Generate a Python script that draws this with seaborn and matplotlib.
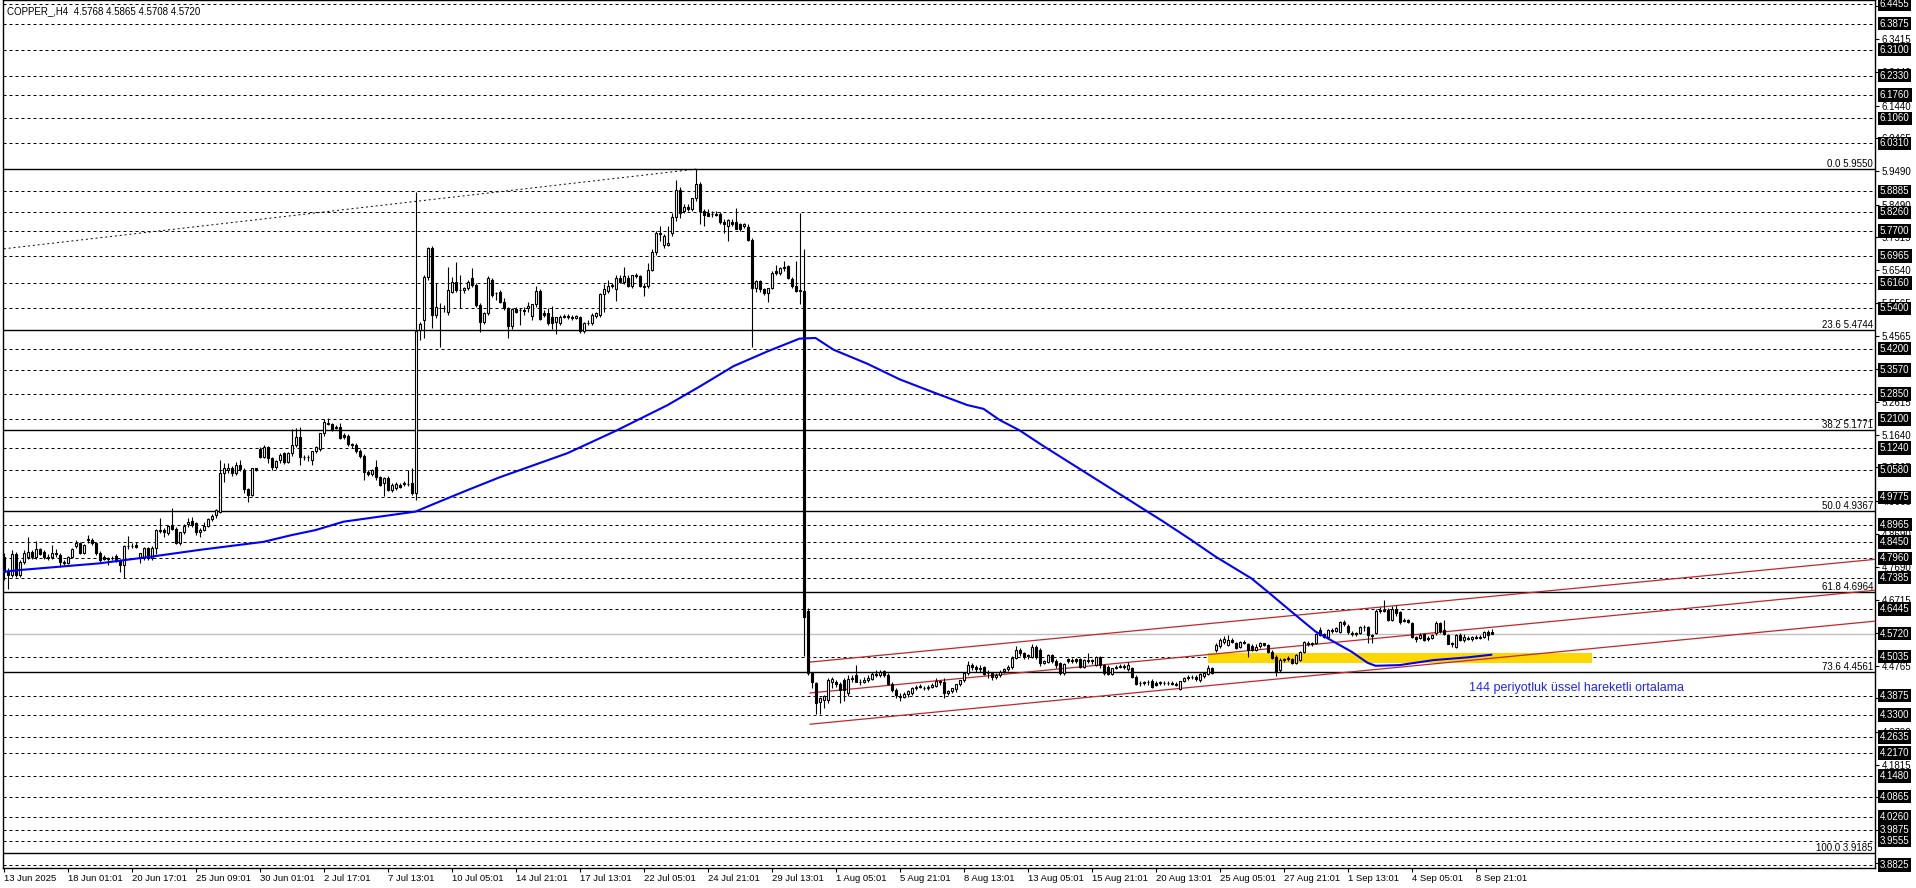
import matplotlib
matplotlib.use("Agg")
import matplotlib.pyplot as plt
import matplotlib.transforms as mtransforms
import seaborn as sns
import numpy as np

# H4 candles, one per bar index (bar 0 = 13 Jun 2025)
opens = [
    4.801, 4.756, 4.746, 4.810, 4.746, 4.786, 4.800, 4.815, 4.800, 4.823,
    4.816, 4.801, 4.801, 4.811, 4.806, 4.786, 4.781, 4.801, 4.834, 4.841,
    4.811, 4.850, 4.851, 4.841, 4.813, 4.801, 4.796, 4.797, 4.803, 4.789,
    4.776, 4.833, 4.833, 4.836, 4.796, 4.796, 4.826, 4.796, 4.826, 4.880,
    4.880, 4.870, 4.896, 4.883, 4.843, 4.873, 4.899, 4.908, 4.900, 4.873,
    4.881, 4.893, 4.913, 4.925, 4.935, 5.049, 5.059, 5.066, 5.049, 5.074,
    5.059, 5.002, 4.985, 5.064, 5.122, 5.099, 5.126, 5.094, 5.067, 5.089,
    5.109, 5.084, 5.109, 5.133, 5.158, 5.099, 5.097, 5.089, 5.114, 5.121,
    5.168, 5.200, 5.196, 5.188, 5.188, 5.163, 5.160, 5.136, 5.133, 5.115,
    5.101, 5.054, 5.047, 5.069, 5.037, 5.019, 5.034, 4.999, 5.004, 5.014,
    5.019, 5.017, 5.019, 4.991, 5.476, 5.505, 5.634, 5.719, 5.520, 5.540,
    5.540, 5.530, 5.590, 5.620, 5.595, 5.596, 5.600, 5.630, 5.610, 5.550,
    5.500, 5.525, 5.625, 5.585, 5.590, 5.560, 5.540, 5.487, 5.538, 5.535,
    5.535, 5.541, 5.516, 5.552, 5.593, 5.525, 5.525, 5.514, 5.500, 5.497,
    5.514, 5.516, 5.514, 5.512, 5.514, 5.473, 5.497, 5.497, 5.516, 5.519,
    5.583, 5.593, 5.608, 5.597, 5.630, 5.619, 5.630, 5.608, 5.638, 5.635,
    5.608, 5.608, 5.655, 5.707, 5.763, 5.730, 5.730, 5.763, 5.812, 5.892,
    5.830, 5.843, 5.835, 5.870, 5.909, 5.829, 5.823, 5.820, 5.822, 5.822,
    5.796, 5.785, 5.796, 5.798, 5.790, 5.785, 5.781, 5.743, 5.600, 5.622,
    5.597, 5.585, 5.602, 5.652, 5.646, 5.660, 5.666, 5.627, 5.608, 5.593,
    5.593, 4.639, 4.455, 4.424, 4.369, 4.374, 4.374, 4.427, 4.427, 4.422,
    4.433, 4.394, 4.438, 4.449, 4.427, 4.429, 4.433, 4.438, 4.451, 4.449,
    4.460, 4.449, 4.421, 4.405, 4.387, 4.384, 4.392, 4.394, 4.411, 4.414,
    4.411, 4.409, 4.414, 4.416, 4.430, 4.427, 4.394, 4.402, 4.406, 4.421,
    4.433, 4.455, 4.477, 4.471, 4.465, 4.471, 4.454, 4.456, 4.444, 4.450,
    4.461, 4.467, 4.471, 4.498, 4.523, 4.513, 4.505, 4.503, 4.533, 4.523,
    4.485, 4.488, 4.508, 4.491, 4.483, 4.454, 4.495, 4.491, 4.495, 4.495,
    4.473, 4.490, 4.489, 4.478, 4.501, 4.478, 4.473, 4.452, 4.470, 4.473,
    4.475, 4.465, 4.468, 4.444, 4.425, 4.426, 4.427, 4.432, 4.424, 4.425,
    4.425, 4.426, 4.424, 4.422, 4.408, 4.430, 4.441, 4.443, 4.442, 4.434,
    4.445, 4.453, 4.468, 4.523, 4.535, 4.547, 4.538, 4.553, 4.543, 4.533,
    4.548, 4.541, 4.535, 4.523, 4.535, 4.543, 4.538, 4.518, 4.503, 4.463,
    4.493, 4.497, 4.495, 4.485, 4.493, 4.518, 4.545, 4.540, 4.543, 4.583,
    4.570, 4.563, 4.583, 4.581, 4.578, 4.607, 4.594, 4.575, 4.572, 4.573,
    4.591, 4.590, 4.568, 4.573, 4.640, 4.640, 4.643, 4.612, 4.645, 4.636,
    4.610, 4.612, 4.602, 4.563, 4.560, 4.570, 4.557, 4.558, 4.573, 4.602,
    4.583, 4.568, 4.541, 4.533, 4.568, 4.553, 4.558, 4.556, 4.561, 4.558,
    4.563, 4.576, 4.5768,
]
highs = [
    4.811, 4.766, 4.821, 4.815, 4.790, 4.820, 4.860, 4.822, 4.848, 4.828,
    4.822, 4.810, 4.836, 4.825, 4.812, 4.792, 4.803, 4.826, 4.851, 4.845,
    4.840, 4.866, 4.856, 4.845, 4.818, 4.805, 4.800, 4.802, 4.808, 4.795,
    4.835, 4.862, 4.843, 4.846, 4.810, 4.830, 4.830, 4.832, 4.883, 4.915,
    4.885, 4.895, 4.945, 4.888, 4.875, 4.897, 4.915, 4.920, 4.905, 4.885,
    4.905, 4.915, 4.928, 4.942, 5.089, 5.079, 5.079, 5.070, 5.084, 5.089,
    5.064, 5.006, 5.064, 5.066, 5.128, 5.133, 5.130, 5.098, 5.090, 5.110,
    5.113, 5.112, 5.180, 5.183, 5.188, 5.105, 5.104, 5.110, 5.130, 5.170,
    5.210, 5.213, 5.200, 5.192, 5.200, 5.168, 5.165, 5.140, 5.138, 5.120,
    5.106, 5.058, 5.062, 5.089, 5.041, 5.038, 5.040, 5.020, 5.022, 5.020,
    5.025, 5.059, 5.064, 5.887, 5.500, 5.640, 5.724, 5.726, 5.615, 5.555,
    5.550, 5.664, 5.634, 5.679, 5.639, 5.605, 5.625, 5.659, 5.615, 5.555,
    5.530, 5.635, 5.630, 5.590, 5.595, 5.570, 5.545, 5.540, 5.545, 5.540,
    5.545, 5.560, 5.552, 5.607, 5.598, 5.535, 5.541, 5.547, 5.515, 5.520,
    5.522, 5.522, 5.520, 5.520, 5.518, 5.500, 5.505, 5.525, 5.530, 5.585,
    5.613, 5.625, 5.615, 5.640, 5.640, 5.663, 5.640, 5.640, 5.645, 5.640,
    5.615, 5.674, 5.718, 5.770, 5.785, 5.760, 5.785, 5.825, 5.923, 5.900,
    5.850, 5.850, 5.870, 5.954, 5.915, 5.835, 5.835, 5.830, 5.830, 5.828,
    5.805, 5.805, 5.805, 5.840, 5.795, 5.795, 5.790, 5.750, 5.625, 5.625,
    5.600, 5.600, 5.650, 5.668, 5.662, 5.682, 5.670, 5.632, 5.680, 5.823,
    5.718, 4.649, 4.459, 4.429, 4.384, 4.389, 4.439, 4.444, 4.434, 4.427,
    4.439, 4.449, 4.449, 4.477, 4.437, 4.444, 4.449, 4.459, 4.464, 4.464,
    4.464, 4.454, 4.427, 4.409, 4.394, 4.399, 4.404, 4.414, 4.419, 4.421,
    4.417, 4.419, 4.424, 4.439, 4.434, 4.441, 4.404, 4.409, 4.421, 4.434,
    4.454, 4.489, 4.484, 4.479, 4.479, 4.475, 4.464, 4.459, 4.454, 4.464,
    4.469, 4.478, 4.505, 4.535, 4.530, 4.518, 4.512, 4.541, 4.537, 4.528,
    4.492, 4.512, 4.512, 4.495, 4.487, 4.485, 4.500, 4.498, 4.500, 4.500,
    4.495, 4.513, 4.495, 4.505, 4.505, 4.482, 4.478, 4.470, 4.478, 4.480,
    4.480, 4.488, 4.472, 4.448, 4.430, 4.432, 4.435, 4.436, 4.430, 4.432,
    4.430, 4.432, 4.430, 4.428, 4.432, 4.444, 4.448, 4.448, 4.448, 4.455,
    4.458, 4.478, 4.472, 4.545, 4.558, 4.565, 4.568, 4.560, 4.548, 4.550,
    4.553, 4.545, 4.540, 4.540, 4.546, 4.545, 4.542, 4.522, 4.508, 4.500,
    4.500, 4.505, 4.500, 4.510, 4.520, 4.550, 4.550, 4.548, 4.575, 4.590,
    4.575, 4.585, 4.588, 4.590, 4.610, 4.612, 4.600, 4.580, 4.578, 4.595,
    4.596, 4.595, 4.572, 4.645, 4.652, 4.672, 4.648, 4.655, 4.657, 4.640,
    4.617, 4.615, 4.606, 4.565, 4.575, 4.575, 4.565, 4.570, 4.610, 4.607,
    4.612, 4.572, 4.548, 4.570, 4.575, 4.570, 4.565, 4.565, 4.568, 4.568,
    4.580, 4.583, 4.5865,
]
lows = [
    4.731, 4.704, 4.740, 4.740, 4.740, 4.780, 4.795, 4.795, 4.795, 4.805,
    4.795, 4.790, 4.795, 4.800, 4.770, 4.775, 4.778, 4.798, 4.828, 4.808,
    4.808, 4.842, 4.836, 4.805, 4.785, 4.790, 4.776, 4.792, 4.785, 4.756,
    4.736, 4.825, 4.826, 4.827, 4.783, 4.790, 4.792, 4.790, 4.810, 4.870,
    4.860, 4.866, 4.880, 4.838, 4.837, 4.868, 4.890, 4.890, 4.865, 4.860,
    4.876, 4.888, 4.908, 4.915, 4.930, 5.024, 5.050, 5.040, 5.044, 5.056,
    4.990, 4.965, 4.980, 5.055, 5.095, 5.094, 5.080, 5.059, 5.062, 5.080,
    5.078, 5.080, 5.100, 5.128, 5.074, 5.090, 5.085, 5.074, 5.110, 5.115,
    5.160, 5.192, 5.175, 5.180, 5.150, 5.150, 5.130, 5.125, 5.110, 5.095,
    5.029, 5.040, 5.042, 5.030, 5.010, 4.980, 4.995, 4.993, 5.000, 5.005,
    5.010, 5.010, 4.985, 4.970, 5.446, 5.451, 5.625, 5.481, 5.510, 5.426,
    5.530, 5.520, 5.585, 5.590, 5.540, 5.585, 5.595, 5.605, 5.545, 5.470,
    5.495, 5.520, 5.575, 5.565, 5.555, 5.535, 5.453, 5.480, 5.525, 5.492,
    5.520, 5.530, 5.505, 5.545, 5.505, 5.515, 5.490, 5.480, 5.463, 5.490,
    5.510, 5.508, 5.505, 5.508, 5.468, 5.468, 5.490, 5.492, 5.512, 5.515,
    5.530, 5.585, 5.600, 5.563, 5.615, 5.612, 5.605, 5.600, 5.630, 5.605,
    5.578, 5.600, 5.650, 5.700, 5.740, 5.720, 5.725, 5.755, 5.800, 5.810,
    5.825, 5.830, 5.830, 5.860, 5.790, 5.785, 5.815, 5.812, 5.815, 5.790,
    5.763, 5.740, 5.785, 5.775, 5.770, 5.780, 5.740, 5.425, 5.590, 5.590,
    5.580, 5.558, 5.598, 5.640, 5.640, 5.650, 5.628, 5.600, 5.590, 5.552,
    4.504, 4.449, 4.409, 4.333, 4.333, 4.349, 4.364, 4.409, 4.414, 4.366,
    4.371, 4.387, 4.429, 4.434, 4.419, 4.424, 4.429, 4.434, 4.444, 4.444,
    4.444, 4.419, 4.399, 4.381, 4.371, 4.379, 4.384, 4.389, 4.404, 4.409,
    4.404, 4.405, 4.409, 4.413, 4.419, 4.379, 4.389, 4.394, 4.399, 4.417,
    4.429, 4.449, 4.464, 4.459, 4.459, 4.449, 4.439, 4.434, 4.437, 4.444,
    4.454, 4.460, 4.466, 4.495, 4.505, 4.495, 4.495, 4.500, 4.495, 4.475,
    4.480, 4.485, 4.485, 4.470, 4.449, 4.450, 4.485, 4.485, 4.485, 4.470,
    4.468, 4.485, 4.480, 4.475, 4.470, 4.450, 4.448, 4.450, 4.465, 4.468,
    4.465, 4.460, 4.440, 4.418, 4.415, 4.418, 4.420, 4.410, 4.415, 4.420,
    4.418, 4.420, 4.418, 4.415, 4.404, 4.428, 4.435, 4.436, 4.432, 4.428,
    4.440, 4.450, 4.452, 4.518, 4.530, 4.540, 4.535, 4.545, 4.525, 4.528,
    4.540, 4.503, 4.520, 4.520, 4.530, 4.535, 4.515, 4.495, 4.445, 4.458,
    4.488, 4.490, 4.480, 4.480, 4.490, 4.515, 4.535, 4.535, 4.540, 4.565,
    4.560, 4.560, 4.575, 4.578, 4.575, 4.595, 4.572, 4.565, 4.565, 4.570,
    4.580, 4.543, 4.543, 4.570, 4.632, 4.635, 4.610, 4.608, 4.625, 4.600,
    4.605, 4.602, 4.560, 4.548, 4.555, 4.550, 4.550, 4.555, 4.568, 4.575,
    4.568, 4.540, 4.533, 4.528, 4.550, 4.548, 4.552, 4.550, 4.555, 4.555,
    4.558, 4.553, 4.5708,
]
closes = [
    4.756, 4.746, 4.810, 4.746, 4.786, 4.813, 4.815, 4.800, 4.823, 4.809,
    4.801, 4.796, 4.811, 4.809, 4.786, 4.781, 4.801, 4.824, 4.841, 4.811,
    4.836, 4.852, 4.841, 4.811, 4.791, 4.793, 4.795, 4.798, 4.789, 4.776,
    4.833, 4.833, 4.834, 4.829, 4.811, 4.826, 4.796, 4.826, 4.880, 4.877,
    4.873, 4.893, 4.883, 4.843, 4.873, 4.893, 4.905, 4.895, 4.873, 4.881,
    4.893, 4.913, 4.923, 4.940, 5.049, 5.064, 5.064, 5.049, 5.074, 5.061,
    5.002, 4.985, 5.064, 5.059, 5.099, 5.128, 5.094, 5.067, 5.087, 5.104,
    5.084, 5.109, 5.133, 5.158, 5.099, 5.097, 5.099, 5.114, 5.127, 5.168,
    5.203, 5.196, 5.180, 5.183, 5.155, 5.158, 5.136, 5.133, 5.115, 5.101,
    5.054, 5.047, 5.059, 5.037, 5.014, 5.034, 4.999, 5.014, 5.017, 5.009,
    5.016, 5.017, 4.991, 5.474, 5.495, 5.634, 5.719, 5.520, 5.545, 5.540,
    5.541, 5.595, 5.620, 5.595, 5.596, 5.600, 5.620, 5.610, 5.550, 5.500,
    5.525, 5.630, 5.580, 5.585, 5.560, 5.540, 5.487, 5.538, 5.530, 5.535,
    5.532, 5.547, 5.552, 5.593, 5.508, 5.520, 5.497, 5.497, 5.513, 5.514,
    5.516, 5.515, 5.512, 5.516, 5.473, 5.497, 5.497, 5.519, 5.525, 5.583,
    5.597, 5.608, 5.609, 5.630, 5.619, 5.636, 5.608, 5.638, 5.636, 5.608,
    5.605, 5.655, 5.707, 5.763, 5.760, 5.757, 5.735, 5.812, 5.892, 5.824,
    5.843, 5.835, 5.870, 5.909, 5.829, 5.818, 5.815, 5.822, 5.818, 5.796,
    5.790, 5.802, 5.790, 5.777, 5.777, 5.790, 5.743, 5.602, 5.622, 5.597,
    5.585, 5.602, 5.646, 5.646, 5.659, 5.663, 5.630, 5.608, 5.593, 5.595,
    4.620, 4.455, 4.427, 4.366, 4.379, 4.387, 4.433, 4.438, 4.422, 4.405,
    4.405, 4.438, 4.441, 4.427, 4.429, 4.433, 4.441, 4.451, 4.449, 4.459,
    4.449, 4.421, 4.405, 4.389, 4.384, 4.392, 4.400, 4.411, 4.414, 4.415,
    4.409, 4.414, 4.418, 4.430, 4.427, 4.394, 4.402, 4.409, 4.421, 4.433,
    4.455, 4.477, 4.471, 4.465, 4.469, 4.452, 4.456, 4.444, 4.450, 4.459,
    4.467, 4.473, 4.498, 4.523, 4.513, 4.501, 4.508, 4.533, 4.503, 4.483,
    4.490, 4.508, 4.491, 4.478, 4.454, 4.481, 4.490, 4.492, 4.489, 4.473,
    4.493, 4.492, 4.493, 4.501, 4.478, 4.454, 4.452, 4.468, 4.473, 4.475,
    4.471, 4.478, 4.444, 4.422, 4.426, 4.427, 4.429, 4.414, 4.419, 4.428,
    4.426, 4.425, 4.422, 4.420, 4.430, 4.441, 4.443, 4.443, 4.438, 4.453,
    4.455, 4.468, 4.455, 4.538, 4.553, 4.556, 4.554, 4.548, 4.528, 4.548,
    4.543, 4.523, 4.523, 4.533, 4.543, 4.538, 4.518, 4.498, 4.458, 4.493,
    4.497, 4.498, 4.485, 4.508, 4.518, 4.548, 4.540, 4.543, 4.571, 4.568,
    4.563, 4.583, 4.581, 4.588, 4.607, 4.600, 4.578, 4.572, 4.573, 4.591,
    4.590, 4.568, 4.566, 4.640, 4.642, 4.643, 4.612, 4.645, 4.632, 4.607,
    4.612, 4.607, 4.563, 4.555, 4.567, 4.553, 4.558, 4.568, 4.602, 4.580,
    4.571, 4.541, 4.543, 4.568, 4.553, 4.561, 4.556, 4.561, 4.558, 4.563,
    4.576, 4.569, 4.5720,
]

# 144 period EMA, read at some bars
ema_bars = [0, 4, 14, 24, 37, 49, 57, 65, 72, 78, 85, 91, 103, 107, 116, 124,
            141, 153, 166, 174, 182.5, 191, 199, 203, 207.5, 216, 224, 232.5,
            241, 245, 249, 254, 260, 270, 280, 290, 297, 303, 312, 316, 322,
            328, 337, 341, 343, 349, 357.5, 366, 372]
ema_values = [4.756, 4.761, 4.771, 4.781, 4.801, 4.821, 4.833, 4.845, 4.865,
              4.880, 4.905, 4.915, 4.935, 4.955, 4.999, 5.037, 5.109, 5.175,
              5.252, 5.307, 5.368, 5.412, 5.450, 5.452, 5.417, 5.375, 5.329,
              5.290, 5.252, 5.241, 5.208, 5.177, 5.130, 5.055, 4.980, 4.905,
              4.850, 4.801, 4.736, 4.697, 4.637, 4.578, 4.518, 4.485, 4.476,
              4.478, 4.493, 4.501, 4.509]

date_ticks = list(range(0, 369, 16))
date_labels = ["13 Jun 2025", "18 Jun 01:01", "20 Jun 17:01", "25 Jun 09:01",
               "30 Jun 01:01", "2 Jul 17:01", "7 Jul 13:01", "10 Jul 05:01",
               "14 Jul 21:01", "17 Jul 13:01", "22 Jul 05:01", "24 Jul 21:01",
               "29 Jul 13:01", "1 Aug 05:01", "5 Aug 21:01", "8 Aug 13:01",
               "13 Aug 05:01", "15 Aug 21:01", "20 Aug 13:01", "25 Aug 05:01",
               "27 Aug 21:01", "1 Sep 13:01", "4 Sep 05:01", "8 Sep 21:01"]

price_ticks = [6.4390, 6.3415, 6.2440, 6.1440, 6.0465, 5.9490, 5.8490, 5.7515,
               5.6540, 5.5565, 5.4565, 5.3590, 5.2615, 5.1640, 5.0665, 4.9665,
               4.8690, 4.7690, 4.6715, 4.5740, 4.4765, 4.3790, 4.2790, 4.1815,
               4.0840, 3.9865, 3.8890]

level_lines = [6.4455, 6.3875, 6.3100, 6.2330, 6.1760, 6.1060, 6.0310, 5.8885,
               5.8260, 5.7700, 5.6965, 5.6160, 5.5400, 5.4200, 5.3570, 5.2850,
               5.2100, 5.1240, 5.0580, 4.9775, 4.8965, 4.8450, 4.7960, 4.7385,
               4.6445, 4.5035, 4.3875, 4.3300, 4.2635, 4.2170, 4.1480, 4.0865,
               4.0260, 3.9875, 3.9555, 3.8825]
bid_price = 4.5720

fib_pcts = [0.0, 23.6, 38.2, 50.0, 61.8, 73.6, 100.0]
fib_prices = [5.9550, 5.4744, 5.1771, 4.9367, 4.6964, 4.4561, 3.9185]
fib_anchor_bars = [-1312, 173.4]
fib_anchor_prices = [3.9185, 5.9550]

channel_bars = [201.6, 468]
channel_upper = [4.487, 4.793]
channel_mid = [4.395, 4.701]
channel_lower = [4.302, 4.609]

zone_bars = [301, 397]
zone_low = 4.4837
zone_high = 4.5155

ema_note = "144 periyotluk üssel hareketli ortalama"
ema_note_bar = 366.4
ema_note_price = 4.410


def main():
    sns.set_style("white")
    plt.rcParams['font.family'] = ['Liberation Sans', 'DejaVu Sans']

    W, H = 1916, 888
    fig = plt.figure(figsize=(W / 100, H / 100), dpi=100)
    left_px, right_px, bottom_px = 2.5, 1875.0, 867.5
    ax = fig.add_axes([left_px / W, (H - bottom_px) / H,
                       (right_px - left_px) / W, bottom_px / H])
    ax.set_facecolor("white")
    ax.set_xlim(-0.25, 467.875)
    ax.set_ylim(3.8755, 6.4581)

    # horizontal levels
    for lvl in level_lines:
        ax.axhline(lvl, color="black", lw=0.72, ls=(0, (3, 3)), zorder=1)
    for lvl in fib_prices:
        ax.axhline(lvl, color="black", lw=1.0, zorder=1.2)
    ax.axhline(bid_price, color="#c0c0c0", lw=1.0, zorder=1.1)
    ax.plot(fib_anchor_bars, fib_anchor_prices, color="black", lw=0.7,
            ls=(0, (2, 3)), zorder=1.3)

    ax.fill_between(zone_bars, zone_low, zone_high, color="#ffd700", lw=0,
                    zorder=2)
    for line in (channel_upper, channel_mid, channel_lower):
        ax.plot(channel_bars, line, color="#c1272d", lw=0.9, zorder=3)

    # candles
    o = np.array(opens)
    c = np.array(closes)
    idx = np.arange(len(c))
    ax.vlines(idx, lows, highs, color="black", lw=0.8, zorder=4)
    bull = c >= o
    ax.bar(idx, np.abs(c - o), bottom=np.minimum(o, c), width=0.5,
           color=np.where(bull, "white", "black"), edgecolor="black",
           linewidth=0.8, zorder=5)

    sns.lineplot(x=ema_bars, y=ema_values, ax=ax, color="#0000ff",
                 linewidth=1.5, zorder=6, legend=False)
    ax.text(ema_note_bar, ema_note_price, ema_note, color="#2424ff",
            fontsize=9, ha="left", va="center", zorder=7)

    # axes look
    for sp in ax.spines.values():
        sp.set_color("black")
        sp.set_linewidth(1.0)
    ax.yaxis.tick_right()
    ax.set_yticks(price_ticks)
    ax.set_yticklabels([f"{v:.4f}" for v in price_ticks])
    ax.tick_params(axis="y", direction="out", length=3, width=0.8, pad=2,
                   labelsize=7, colors="black", right=True, left=False)
    ax.set_xticks(date_ticks)
    ax.set_xticklabels(date_labels, ha="left")
    ax.tick_params(axis="x", direction="out", length=3, width=0.8, pad=1.5,
                   labelsize=6.8, colors="black", bottom=True)
    ax.set_xlabel("")
    ax.set_ylabel("")

    trans = mtransforms.blended_transform_factory(ax.transAxes, ax.transData)
    axw = right_px - left_px
    for lvl in level_lines + [bid_price]:
        ax.text(1 + 5 / axw, lvl, f"{lvl:.4f}", transform=trans, ha="left",
                va="center", color="white", fontsize=7, zorder=10,
                clip_on=False,
                bbox=dict(boxstyle="square,pad=0.18", fc="black", ec="none"))
    for pct, lvl in zip(fib_pcts, fib_prices):
        ax.text(1 - 2 / axw, lvl, f"{pct:.1f} {lvl:.4f}", transform=trans,
                ha="right", va="bottom", fontsize=7, color="black", zorder=8)

    fig.text(7 / W, 1 - 11 / H,
             f"COPPER_,H4  {opens[-1]:.4f} {highs[-1]:.4f} {lows[-1]:.4f} {closes[-1]:.4f}",
             ha="left", va="center", fontsize=7, color="black")

    fig.savefig("out.png", dpi=100)


if __name__ == "__main__":
    main()
